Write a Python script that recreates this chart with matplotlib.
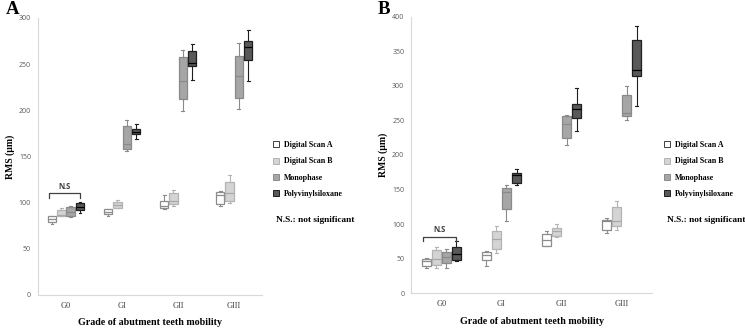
import matplotlib
matplotlib.use("Agg")
import matplotlib.pyplot as plt
from matplotlib.patches import Patch

grades = ["G0", "GI", "GII", "GIII"]
series = ["Digital Scan A", "Digital Scan B", "Monophase", "Polyvinylsiloxane"]

# five-number summaries per grade: [whisker low, q1, median, q3, whisker high]
a_scan_a = [[77, 79, 82, 85, 86], [86, 88, 90, 92.5, 93], [93, 93.6, 96, 102, 108], [96, 98, 108.7, 111, 112]]
a_scan_b = [[85, 85.5, 87, 92, 94], [94, 94, 97, 101, 103], [96.5, 98.3, 101.5, 110.5, 114], [99.7, 101.8, 110.5, 122.4, 129.6]]
a_mono = [[84, 85.6, 90, 94.7, 96], [156, 157.7, 163, 182.8, 189], [199, 212.5, 232, 258, 265], [201, 213, 237, 259, 273]]
a_pvs = [[89, 91.8, 95, 99, 101], [169, 174, 176.4, 180, 185], [233, 248, 251, 264, 272], [232, 254, 269, 275, 287]]

b_scan_a = [[36, 40, 47, 50, 51], [40, 48, 56, 60, 61], [68, 68.5, 77, 86, 90], [87, 92, 104, 106, 109]]
b_scan_b = [[36, 41, 50, 62, 67], [58, 64, 79, 90, 97], [81, 83, 90, 94, 100], [92, 97.5, 105, 125, 133]]
b_mono = [[36, 43.5, 53, 59, 64], [104, 122, 147, 152, 156], [215, 225, 244, 256, 257], [251, 256, 261, 287, 299]]
b_pvs = [[46, 48, 56.5, 67.5, 75], [156, 159, 170.5, 174, 180], [234, 253, 266, 273, 296], [270, 314, 323, 366, 386]]

faces = ["#ffffff", "#d4d4d4", "#a6a6a6", "#595959"]
edges = ["#8c8c8c", "#b4b4b4", "#8a8a8a", "#1f1f1f"]
medians = ["#8c8c8c", "#a8a8a8", "#8a8a8a", "#000000"]
offsets = [-0.25, -0.083, 0.083, 0.25]

serif = "Liberation Serif"
sans = "Open Sans"


def draw_panel(ax, data, ymax, ns_y, ns_drop):
    for k, summ in enumerate(data):
        stats = [dict(whislo=s[0], q1=s[1], med=s[2], q3=s[3], whishi=s[4]) for s in summ]
        pos = [i + offsets[k] for i in range(len(grades))]
        ax.bxp(stats, positions=pos, widths=0.15, capwidths=0.05, patch_artist=True,
               showfliers=False, manage_ticks=False,
               boxprops=dict(facecolor=faces[k], edgecolor=edges[k], linewidth=0.9),
               medianprops=dict(color=medians[k], linewidth=0.9),
               whiskerprops=dict(color=edges[k], linewidth=0.8),
               capprops=dict(color=edges[k], linewidth=0.8))
    ax.set_xlim(-0.5, 3.5)
    ax.set_ylim(0, ymax)
    ax.set_yticks(range(0, ymax + 1, 50))
    ax.set_xticks(range(len(grades)))
    ax.set_xticklabels(grades, family=serif, fontsize=6, color="#404040")
    for lab in ax.get_yticklabels():
        lab.set_family(sans)
        lab.set_fontsize(5)
        lab.set_color("#595959")
    ax.tick_params(length=0, pad=5)
    for s in ["top", "right"]:
        ax.spines[s].set_visible(False)
    for s in ["left", "bottom"]:
        ax.spines[s].set_color("#d9d9d9")
        ax.spines[s].set_linewidth(0.8)
    ax.set_ylabel("RMS (µm)", family=serif, fontweight="bold", fontsize=7, labelpad=3)
    ax.set_xlabel("Grade of abutment teeth mobility", family=serif, fontweight="bold",
                  fontsize=7.2, labelpad=6)
    # N.S bracket over G0
    x0, x1 = offsets[0] - 0.06, offsets[3] + 0.0
    ax.plot([x0, x0, x1, x1], [ns_y - ns_drop, ns_y, ns_y, ns_y - ns_drop],
            color="#404040", linewidth=0.9)
    ax.text((x0 + x1) / 2, ns_y + ns_drop * 0.6, "N.S", ha="center", va="bottom",
            family=sans, fontsize=5.5, color="#404040", fontweight="bold")


fig = plt.figure(figsize=(7.45, 3.31), dpi=100)
ax_a = fig.add_axes([0.051, 0.109, 0.301, 0.837])
ax_b = fig.add_axes([0.552, 0.114, 0.323, 0.836])

draw_panel(ax_a, [a_scan_a, a_scan_b, a_mono, a_pvs], 300, 110, 5)
draw_panel(ax_b, [b_scan_a, b_scan_b, b_mono, b_pvs], 400, 82, 7)

handles = [Patch(facecolor=faces[k], edgecolor=edges[k] if k else "#404040", linewidth=0.7)
           for k in range(4)]
for ax, xl in [(ax_a, 273 / 745), (ax_b, 664 / 745)]:
    fig.legend(handles, series, loc="upper left", bbox_to_anchor=(xl, 1 - 141 / 331),
               frameon=False, prop=dict(family=serif, weight="bold", size=5.7),
               handlelength=0.8, handleheight=0.8, handletextpad=0.6,
               labelspacing=1.05, borderpad=0, borderaxespad=0)
    fig.text(xl + 3 / 745, 1 - 220 / 331, "N.S.: not significant", family=serif,
             fontweight="bold", fontsize=6.7, va="center", ha="left")

fig.text(6 / 745, 1 - 9 / 331, "A", family=serif, fontweight="bold", fontsize=13.5,
         va="center", ha="left")
fig.text(378 / 745, 1 - 9 / 331, "B", family=serif, fontweight="bold", fontsize=13.5,
         va="center", ha="left")

fig.savefig("out.png", dpi=100)
